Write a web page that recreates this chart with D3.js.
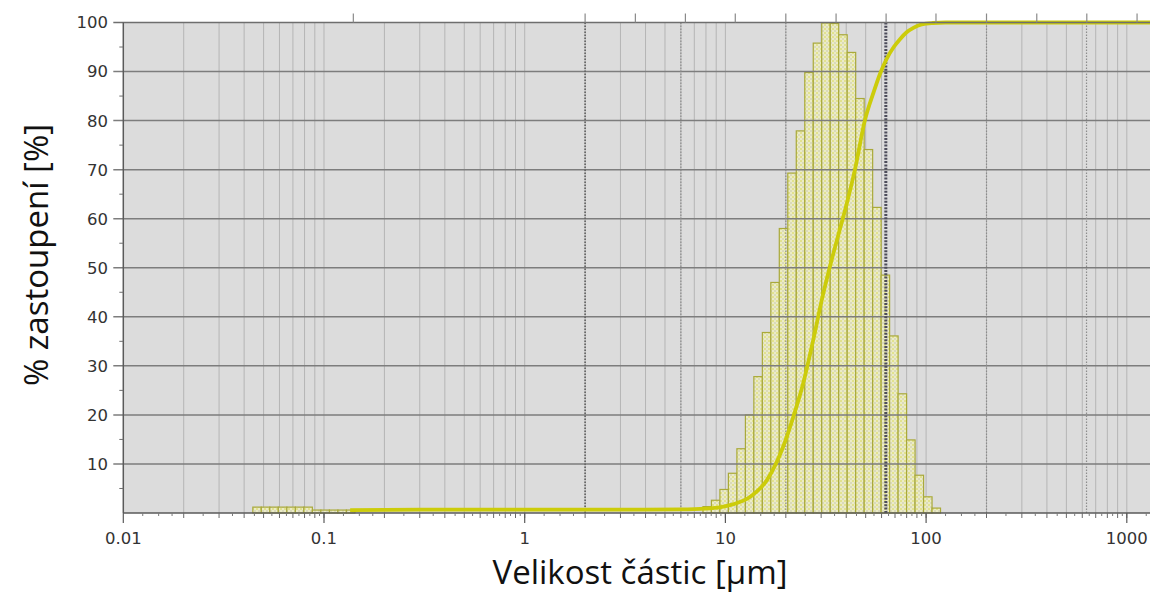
<!DOCTYPE html>
<html>
<head>
<meta charset="utf-8">
<script src="https://d3js.org/d3.v7.min.js"></script>
<style>
body { margin: 0; background: #fff; }
.tick-label { font: 16.5px 'DejaVu Sans', sans-serif; fill: #333; }
.axis-title { font-family: 'Open Sans', 'Noto Sans', sans-serif; font-size: 33px; fill: #111; }
</style>
</head>
<body>
<div id="chart"></div>
<script>
// axis ticks
const yTicks = [10, 20, 30, 40, 50, 60, 70, 80, 90, 100];
const xTickValues = [0.01, 0.1, 1, 10, 100, 1000];
const xTickLabels = ["0.01", "0.1", "1", "10", "100", "1000"];
const topTicks = [0.14, 2, 3.56, 6.32, 11.2, 20, 35.6, 63.2, 112, 200, 356, 632, 1125];
const refLines = [2, 6, 20, 63, 200, 630];
const strongRefs = [2, 63];

// histogram: bin lower edges (last one is upper edge of last bin) and heights
const binEdges = [7.73, 8.52, 9.39, 10.35, 11.41, 12.58, 13.86, 15.28, 16.84, 18.56, 20.46,
                  22.55, 24.86, 27.40, 30.20, 33.29, 36.69, 40.44, 44.58, 49.14, 54.16,
                  59.70, 65.80, 72.53, 79.94, 88.11, 97.12, 107.05, 118.0];
const binFreq = [1.3, 2.6, 4.8, 8.1, 13.1, 20.0, 27.8, 36.8, 47.0, 58.0, 69.3, 77.9, 89.8, 95.8,
                 99.9, 99.8, 97.5, 93.9, 84.5, 74.1, 62.3, 48.5, 36.1, 24.3, 14.9, 7.7, 3.3, 1.0];
const lowEdges = [0.0442, 0.0487, 0.0537, 0.0592, 0.0653, 0.0720, 0.0794, 0.0875,
                  0.0965, 0.1064, 0.1173, 0.1293, 0.1426];
const lowFreq = [1.2, 1.2, 1.2, 1.2, 1.2, 1.2, 1.2, 0.6, 0.6, 0.6, 0.6, 0.6];

// cumulative curve
const cumSize = [0.135, 0.3, 1, 3, 6, 8, 9.5, 11, 13.3, 16.1, 19.4, 21.8, 24.4, 27.4, 30.2, 33.3,
                 36.7, 40.2, 44.2, 49.5, 55, 58.9, 63.6, 69, 74.1, 80, 86.4, 95, 108, 125, 1400];
const cumPct = [0.6, 0.7, 0.7, 0.7, 0.75, 0.9, 1.2, 1.8, 3.3, 6.7, 13.5, 19.6, 26.4, 35.3, 43.4, 50.5,
                57, 63, 70, 80, 86, 89.5, 92.6, 95, 96.6, 98, 98.9, 99.6, 99.9, 100, 100];

const W = 1150, H = 594;
const L = 123.3, R = 1150, T = 22.5, B = 513;

const svg = d3.select("#chart").append("svg")
    .attr("width", W).attr("height", H);

const x = d3.scaleLog().domain([0.01, 1305]).range([L, R]);
const y = d3.scaleLinear().domain([0, 100]).range([B, T]);

// bar fill pattern
const defs = svg.append("defs");
const pat = defs.append("pattern")
    .attr("id", "dots").attr("patternUnits", "userSpaceOnUse")
    .attr("width", 4).attr("height", 4);
pat.append("rect").attr("width", 4).attr("height", 4).attr("fill", "#ebebc6");
pat.append("circle").attr("cx", 1).attr("cy", 1).attr("r", 0.8).attr("fill", "#d6d64a");
pat.append("circle").attr("cx", 3).attr("cy", 3).attr("r", 0.7).attr("fill", "#bdbda4");

// plot background
svg.append("rect").attr("x", L).attr("y", T).attr("width", R - L).attr("height", B - T)
    .attr("fill", "#dcdcdc");

// vertical log grid
const minor = [];
for (let e = -2; e <= 3; e++) {
    for (let m = 1; m <= 9; m++) {
        const v = m * Math.pow(10, e);
        if (v > 0.01 && v < 1305) minor.push(v);
    }
}
svg.append("g").selectAll("line").data(minor).enter().append("line")
    .attr("x1", d => x(d)).attr("x2", d => x(d))
    .attr("y1", T).attr("y2", B)
    .attr("stroke", "#b5b5b5").attr("stroke-width", 1);

// histogram bars
const bars = binFreq.map((v, i) => ({ lo: binEdges[i], hi: binEdges[i + 1], v: v }))
    .concat(lowFreq.map((v, i) => ({ lo: lowEdges[i], hi: lowEdges[i + 1], v: v })));
svg.append("g").selectAll("rect").data(bars).enter().append("rect")
    .attr("x", d => x(d.lo))
    .attr("y", d => y(d.v))
    .attr("width", d => x(d.hi) - x(d.lo))
    .attr("height", d => B - y(d.v))
    .attr("fill", "url(#dots)")
    .attr("stroke", "#a9a93a")
    .attr("stroke-width", 1.2);

// horizontal grid
svg.append("g").selectAll("line").data(yTicks.filter(d => d < 100)).enter().append("line")
    .attr("x1", L - 10).attr("x2", R)
    .attr("y1", d => y(d)).attr("y2", d => y(d))
    .attr("stroke", "#7d7d7d").attr("stroke-width", 1.5);

// dotted reference lines
svg.append("g").selectAll("line").data(refLines).enter().append("line")
    .attr("x1", d => x(d)).attr("x2", d => x(d))
    .attr("y1", T).attr("y2", B)
    .attr("stroke", d => strongRefs.includes(d) ? (d === 63 ? "#4c4c5a" : "#666") : "#8c8c8c")
    .attr("stroke-width", d => d === 63 ? 3 : (d === 2 ? 1.7 : 1.2))
    .attr("stroke-dasharray", d => d === 63 ? "2,1.3" : "1.5,1.5");

// cumulative curve
const line = d3.line()
    .x((d, i) => x(cumSize[i]))
    .y(d => y(d))
    .curve(d3.curveMonotoneX);
svg.append("path").datum(cumPct)
    .attr("d", line)
    .attr("fill", "none")
    .attr("stroke", "#cccc0a")
    .attr("stroke-width", 3.8)
    .attr("stroke-linejoin", "round");

// frame: top, left, bottom
svg.append("line").attr("x1", L - 10).attr("x2", R).attr("y1", T).attr("y2", T)
    .attr("stroke", "#6e6e6e").attr("stroke-width", 1.5);
svg.append("line").attr("x1", L).attr("x2", L).attr("y1", T).attr("y2", B)
    .attr("stroke", "#5a5a5a").attr("stroke-width", 1.5);
svg.append("line").attr("x1", L).attr("x2", R).attr("y1", B).attr("y2", B)
    .attr("stroke", "#5a5a5a").attr("stroke-width", 1.5);

// left axis minor ticks
svg.append("g").selectAll("line").data(yTicks.map(d => d - 5)).enter().append("line")
    .attr("x1", L - 4).attr("x2", L)
    .attr("y1", d => y(d)).attr("y2", d => y(d))
    .attr("stroke", "#6e6e6e");

// y tick labels
svg.append("g").selectAll("text").data(yTicks).enter().append("text")
    .attr("class", "tick-label")
    .attr("x", 108).attr("y", d => y(d))
    .attr("dy", "0.36em")
    .attr("text-anchor", "end")
    .text(d => d);

// bottom axis ticks
const subMinor = [];
for (let e = -2; e <= 3; e++) {
    [1.25, 1.5, 1.75, 2.5, 3.5, 4.5, 5.5, 6.5, 7.5, 8.5, 9.5].forEach(m => {
        const v = m * Math.pow(10, e);
        if (v < 1305) subMinor.push(v);
    });
}
svg.append("g").selectAll("line").data(subMinor).enter().append("line")
    .attr("x1", d => x(d)).attr("x2", d => x(d))
    .attr("y1", B).attr("y2", B + 3)
    .attr("stroke", "#7a7a7a");
svg.append("g").selectAll("line").data(minor).enter().append("line")
    .attr("x1", d => x(d)).attr("x2", d => x(d))
    .attr("y1", B).attr("y2", B + 5)
    .attr("stroke", "#6a6a6a");
svg.append("g").selectAll("line").data(xTickValues).enter().append("line")
    .attr("x1", d => x(d)).attr("x2", d => x(d))
    .attr("y1", B).attr("y2", B + 10)
    .attr("stroke", "#5a5a5a").attr("stroke-width", 1.2);

svg.append("g").selectAll("text").data(xTickValues).enter().append("text")
    .attr("class", "tick-label")
    .attr("x", d => x(d)).attr("y", 544)
    .attr("text-anchor", "middle")
    .text((d, i) => xTickLabels[i]);

// top ticks
svg.append("g").selectAll("line").data(topTicks).enter().append("line")
    .attr("x1", d => x(d)).attr("x2", d => x(d))
    .attr("y1", T - 9).attr("y2", T)
    .attr("stroke", "#8a8a8a").attr("stroke-width", 1.2);

// axis titles
svg.append("text").attr("class", "axis-title")
    .attr("x", 640).attr("y", 584)
    .attr("text-anchor", "middle")
    .text("Velikost částic [µm]");

svg.append("text").attr("class", "axis-title")
    .attr("transform", "translate(48,255) rotate(-90)")
    .attr("text-anchor", "middle")
    .text("% zastoupení [%]");
</script>
</body>
</html>
